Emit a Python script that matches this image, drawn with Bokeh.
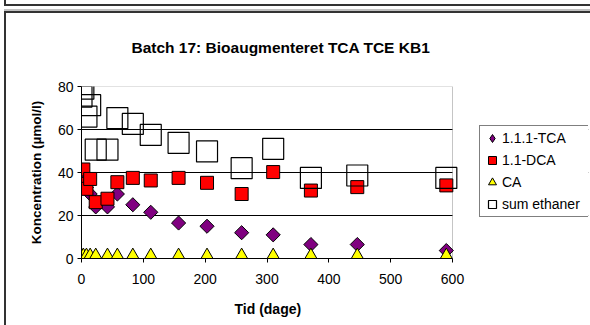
import math
from bokeh.plotting import figure
from bokeh.models import Range1d, Legend, LegendItem, FixedTicker, BoxAnnotation, Title
from bokeh.embed import file_html
from bokeh.resources import INLINE

# ---- data ----
days = [0, 3, 8, 14, 23, 42, 58, 83, 112, 157, 203, 259, 310, 371, 446, 590]
tca = [41, 38, 33, 30, 24, 24, 30, 25, 21.5, 16.5, 15, 12, 11, 6.5, 6.5, 3.7]
dca = [34.7, 41.4, 32.4, 37, 26.2, 27.8, 35.5, 37.5, 36.3, 37.5, 35.2, 30, 40.2, 31.6, 33.2, 34]
ca = [0, 0, 0, 0, 0, 0, 0, 0, 0, 0, 0, 0, 0, 0, 0, 0]
sum_ethaner = [75.3, 79, 66, 71.3, 50.6, 50.6, 65.3, 62.6, 57.5, 53.8, 49.8, 42, 51, 37.5, 38.6, 37.5]

series_names = ["1.1.1-TCA", "1.1-DCA", "CA", "sum ethaner"]
x_ticks = [0, 100, 200, 300, 400, 500, 600]
y_ticks = [0, 20, 40, 60, 80]
x_min, x_max = 0, 600
y_min, y_max = 0, 80
title_text = "Batch 17: Bioaugmenteret TCA TCE KB1"
x_label = "Tid (dage)"
y_label = "Koncentration (µmol/l)"

FONT = "Liberation Sans"

# page geometry (figure sits at page (0, 0))
W, H = 590, 325
PL, PR, PT, PB = 81, 452, 86, 258      # plot-area edges
FRAME_R = 588                          # frame extends right to hold the legend
x_view_max = x_max * (FRAME_R - PL) / (PR - PL)

p = figure(width=W, height=H, output_backend="svg", toolbar_location=None,
           title=None,
           x_range=Range1d(x_min, x_view_max), y_range=Range1d(y_min, y_max),
           min_border_left=PL, min_border_right=W - FRAME_R,
           min_border_top=PT, min_border_bottom=H - PB,
           background_fill_color="white",
           border_fill_color="white", border_fill_alpha=0)

# chart-sheet frames (decoration) painted behind the transparent border area
dark = "linear-gradient(#333333, #333333)"
grey = "linear-gradient(#c0c0c0, #c0c0c0)"
p.styles = {
    "background": (f"{dark} 4px 0px / 2px 6px no-repeat, "
                   f"{dark} 4px 11px / 2px 320px no-repeat, "
                   f"{dark} 4px 4px / 590px 2px no-repeat, "
                   f"{grey} 4px 9px / 590px 2px no-repeat, "
                   f"{dark} 4px 11px / 590px 2px no-repeat, "
                   "#ffffff"),
}

p.outline_line_color = None
p.xgrid.visible = False
p.ygrid.ticker = FixedTicker(ticks=y_ticks)
p.ygrid.grid_line_color = "black"
p.ygrid.grid_line_width = 1

for ax in (p.xaxis[0], p.yaxis[0]):
    ax.axis_line_color = "black"
    ax.major_tick_line_color = "black"
    ax.major_tick_out = 4
    ax.major_tick_in = 0
    ax.minor_tick_line_color = None
    ax.major_label_text_font = FONT
    ax.major_label_text_font_size = "14px"
    ax.major_label_text_color = "black"
    ax.axis_label_text_font = FONT
    ax.axis_label_text_font_size = "13.5px"
    ax.axis_label_text_font_style = "bold"
    ax.axis_label_text_color = "black"

p.xaxis[0].ticker = FixedTicker(ticks=x_ticks)
p.yaxis[0].ticker = FixedTicker(ticks=y_ticks)
p.xaxis[0].bounds = (x_min, x_max)
p.yaxis[0].bounds = (y_min, y_max)
p.yaxis[0].axis_label = y_label
p.xaxis[0].major_label_standoff = 11
# tiny blank axis label: only adds a few pixels between tick labels and x title
p.xaxis[0].axis_label = " "
p.xaxis[0].axis_label_text_font_size = "2px"
p.xaxis[0].axis_label_standoff = 2
p.yaxis[0].major_label_standoff = 4
p.yaxis[0].axis_label_standoff = 11

# cover grid beyond the plot area, and draw the plot-area border
p.add_layout(BoxAnnotation(left=x_max, fill_color="white", fill_alpha=1,
                           line_color=None, level="underlay"))
p.add_layout(BoxAnnotation(left=x_min, right=x_max, bottom=y_min, top=y_max,
                           fill_color=None, line_color="#404040", line_width=1,
                           level="underlay"))

# title (spacer first = closest to the plot)
p.add_layout(Title(text=" ", text_font=FONT, text_font_size="12px"), "above")
p.add_layout(Title(text=title_text, align="left", offset=131 - PL, text_font=FONT,
                   text_font_size="15.5px", text_font_style="bold",
                   text_color="black"), "above")

# x-axis label as a positioned title below the axis
p.add_layout(Title(text=x_label, align="left", offset=234 - PL, text_font=FONT,
                   text_font_size="14px", text_font_style="bold",
                   text_color="black"), "below")

# data marks
r_tca = p.scatter(days, tca, marker="square", angle=math.pi / 4, size=10,
                  fill_color="#800080", line_color="black", line_width=1)
r_dca = p.scatter(days, dca, marker="square", size=13,
                  fill_color="#FF0000", line_color="black", line_width=1)
r_ca = p.scatter(days, ca, marker="triangle", size=18,
                 fill_color="#FFFF00", line_color="black", line_width=1)
r_sum = p.scatter(days, sum_ethaner, marker="square", size=21,
                  fill_color=None, line_color="black", line_width=1.2)

# hidden renderer that only supplies the diamond symbol for the legend
r_tca_leg = p.scatter(days, tca, marker="diamond", size=10, visible=False,
                      fill_color="#800080", line_color="black", line_width=1)

legend = Legend(items=[
    LegendItem(label=series_names[0], renderers=[r_tca_leg]),
    LegendItem(label=series_names[1], renderers=[r_dca]),
    LegendItem(label=series_names[2], renderers=[r_ca]),
    LegendItem(label=series_names[3], renderers=[r_sum]),
], location=(479 - PL, PB - 217))
legend.label_text_font = FONT
legend.label_text_font_size = "14px"
legend.label_text_color = "black"
legend.glyph_width = 20
legend.glyph_height = 20
legend.label_height = 20
legend.label_width = 86
legend.spacing = 2
legend.padding = 2
legend.margin = 0
legend.label_standoff = -4
legend.border_line_color = "black"
legend.border_line_width = 1
legend.background_fill_color = "white"
legend.background_fill_alpha = 1
legend.inactive_fill_alpha = 0
p.add_layout(legend, "center")

open("out.html", "w").write(file_html(p, INLINE))
